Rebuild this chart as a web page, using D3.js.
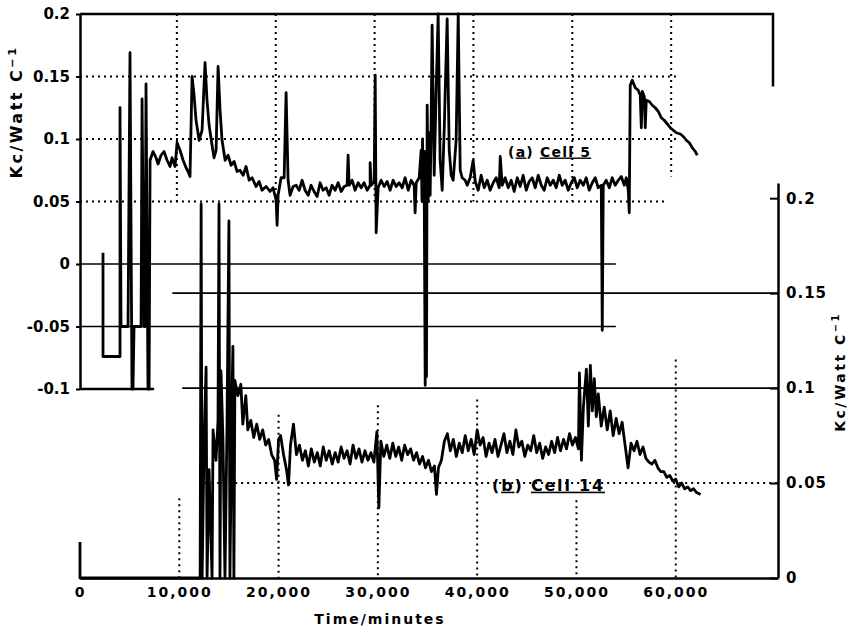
<!DOCTYPE html>
<html>
<head>
<meta charset="utf-8">
<script src="https://cdn.jsdelivr.net/npm/d3@7"></script>
<style>
  body { margin: 0; background: #fff; }
  svg text { font-family: "DejaVu Sans", sans-serif; font-weight: bold; fill: #000; }
</style>
</head>
<body>
<div id="chart"></div>
<script>
// Cell 5 trace (upper plot, left axis): [minutes, Kc/Watt C^-1]
const cell5 = [
  [2530,0.009],[2530,-0.074],[4250,-0.074],[4250,0.125],[4350,-0.05],[5060,-0.05],[5260,0.169],[5460,-0.1],[5560,-0.1],[5670,-0.05],
  [6380,-0.05],[6480,0.132],[6680,-0.05],[6780,-0.05],[6880,0.144],[7080,-0.1],[7190,-0.1],[7290,0.083],
  [7590,0.090],[7890,0.085],[8100,0.080],[8400,0.087],[8700,0.090],[9010,0.083],[9310,0.078],[9510,0.085],[9820,0.078],[10020,0.097],
  [10320,0.091],[10630,0.083],[10930,0.077],[11130,0.074],[11330,0.070],[11540,0.150],[11740,0.135],[11940,0.115],[12250,0.099],[12550,0.107],
  [12850,0.161],[13050,0.131],[13260,0.111],[13560,0.095],[13760,0.085],[13970,0.091],[14170,0.158],[14370,0.123],[14570,0.099],[14880,0.083],
  [15180,0.087],[15480,0.079],[15790,0.082],[16090,0.074],[16390,0.075],[16700,0.071],[17000,0.078],[17310,0.067],[17610,0.069],[18010,0.062],
  [18320,0.066],[18620,0.059],[19030,0.062],[19430,0.058],[19730,0.061],[20040,0.051],[20140,0.031],[20240,0.055],[20540,0.069],[20850,0.069],
  [21050,0.137],[21250,0.067],[21450,0.055],[21760,0.062],[22060,0.063],[22370,0.059],[22670,0.067],[22970,0.059],[23280,0.055],[23580,0.063],
  [23880,0.058],[24190,0.054],[24490,0.065],[24790,0.059],[25100,0.061],[25400,0.055],[25700,0.063],[26010,0.059],[26310,0.065],[26620,0.058],
  [26920,0.062],[27220,0.063],[27320,0.087],[27430,0.063],[27730,0.067],[28030,0.059],[28340,0.065],[28640,0.061],[28940,0.065],[29250,0.059],
  [29550,0.063],[29550,0.081],[29650,0.063],[29960,0.066],[30060,0.151],[30160,0.025],[30360,0.061],[30660,0.067],[30970,0.062],[31270,0.066],
  [31570,0.059],[31880,0.067],[32180,0.062],[32490,0.065],[32790,0.061],[33090,0.069],[33400,0.059],[33700,0.067],[34000,0.063],[34100,0.041],
  [34210,0.065],[34510,0.069],[34710,0.091],[34800,0.050],[34850,0.100],[34910,0.052],[35000,0.090],[35120,-0.097],[35200,0.090],[35250,-0.090],
  [35320,0.127],[35420,0.050],[35520,0.105],[35620,0.055],[35720,0.115],[35820,0.191],[36030,0.071],[36230,0.139],[36430,0.200],[36630,0.083],
  [36840,0.059],[37040,0.107],[37340,0.196],[37550,0.091],[37750,0.071],[37950,0.067],[38250,0.099],[38460,0.200],[38660,0.075],[38860,0.069],
  [39160,0.067],[39370,0.063],[39670,0.069],[39970,0.083],[40180,0.066],[40480,0.059],[40780,0.071],[41090,0.061],[41390,0.067],[41690,0.059],
  [42000,0.065],[42300,0.069],[42610,0.061],[42710,0.086],[42910,0.063],[43210,0.069],[43520,0.061],[43820,0.067],[44120,0.058],[44430,0.069],
  [44730,0.062],[45030,0.071],[45340,0.059],[45640,0.066],[45940,0.069],[46250,0.061],[46550,0.071],[46860,0.063],[47160,0.059],[47460,0.069],
  [47770,0.063],[48070,0.067],[48370,0.061],[48680,0.071],[48980,0.063],[49280,0.067],[49590,0.059],[49890,0.065],[50200,0.069],[50500,0.061],
  [50800,0.067],[51110,0.063],[51410,0.069],[51710,0.059],[52020,0.065],[52320,0.069],[52620,0.061],[52930,0.063],[53030,-0.053],[53130,0.063],
  [53430,0.067],[53740,0.061],[54040,0.069],[54340,0.063],[54650,0.067],[54950,0.070],[55260,0.063],[55460,0.069],[55660,0.059],[55760,0.041],
  [55860,0.143],[56060,0.147],[56370,0.141],[56670,0.139],[56870,0.135],[56980,0.109],[57080,0.138],[57280,0.134],[57380,0.109],[57480,0.131],
  [57790,0.130],[58090,0.127],[58390,0.125],[58700,0.122],[59000,0.117],[59300,0.115],[59610,0.112],[59910,0.109],[60210,0.107],[60520,0.105],
  [60920,0.104],[61230,0.102],[61530,0.099],[61830,0.097],[62140,0.093],[62440,0.090],[62640,0.087]
];

// Cell 14 trace (lower plot, right axis): [minutes, Kc/Watt C^-1]
const cell14 = [
  [0,0.019],[0,0],[12100,0],[12200,0.197],[12300,0],[12500,0.073],[12700,0.111],[12800,0],[13000,0.057],[13300,0],
  [13400,0.078],[13700,0.062],[13900,0.083],[14000,0.197],[14100,0],[14200,0.109],[14400,0.073],[14600,0],[14800,0.078],[15000,0.188],
  [15100,0],[15300,0.094],[15400,0.122],[15500,0],[15600,0.104],[15900,0.096],[16200,0.102],[16400,0.081],[16700,0.096],[16900,0.078],
  [17200,0.083],[17500,0.074],[17800,0.081],[18100,0.073],[18400,0.078],[18700,0.070],[19000,0.073],[19300,0.065],[19600,0.062],[19800,0.052],
  [20000,0.073],[20200,0.075],[20500,0.065],[20800,0.057],[21000,0.049],[21200,0.070],[21500,0.081],[21800,0.065],[22100,0.070],[22400,0.062],
  [22700,0.067],[23000,0.059],[23300,0.068],[23600,0.061],[23900,0.066],[24200,0.059],[24500,0.069],[24800,0.062],[25100,0.067],[25400,0.060],
  [25700,0.066],[26000,0.061],[26300,0.069],[26600,0.063],[26900,0.067],[27200,0.060],[27500,0.070],[27800,0.063],[28100,0.068],[28400,0.061],
  [28700,0.067],[29000,0.062],[29300,0.066],[29600,0.061],[29900,0.077],[30100,0.037],[30300,0.072],[30600,0.064],[30900,0.070],[31200,0.063],
  [31500,0.071],[31800,0.064],[32100,0.069],[32400,0.062],[32700,0.070],[33000,0.065],[33300,0.068],[33600,0.062],[33900,0.066],[34200,0.060],
  [34500,0.064],[34800,0.058],[35100,0.062],[35400,0.056],[35700,0.059],[35900,0.044],[36100,0.058],[36400,0.062],[36700,0.072],[37000,0.076],
  [37300,0.067],[37600,0.073],[37900,0.064],[38200,0.071],[38500,0.066],[38800,0.075],[39100,0.067],[39400,0.073],[39700,0.065],[40000,0.078],
  [40300,0.070],[40600,0.074],[40900,0.064],[41200,0.071],[41500,0.066],[41800,0.073],[42100,0.064],[42400,0.070],[42700,0.076],[43000,0.066],
  [43300,0.072],[43600,0.065],[43900,0.078],[44200,0.069],[44500,0.072],[44800,0.064],[45100,0.070],[45400,0.067],[45700,0.075],[46000,0.066],
  [46300,0.071],[46600,0.063],[46900,0.069],[47200,0.065],[47500,0.072],[47800,0.066],[48100,0.074],[48400,0.067],[48700,0.073],[49000,0.068],
  [49300,0.076],[49600,0.070],[49900,0.074],[50200,0.068],[50300,0.108],[50500,0.062],[50700,0.090],[51000,0.110],[51200,0.080],[51400,0.112],
  [51600,0.088],[51800,0.105],[52000,0.085],[52200,0.097],[52500,0.080],[52800,0.090],[53100,0.078],[53400,0.088],[53700,0.075],[54000,0.084],
  [54300,0.076],[54600,0.082],[54900,0.070],[55200,0.058],[55500,0.071],[55800,0.067],[56100,0.072],[56400,0.065],[56700,0.069],[57000,0.063],
  [57300,0.061],[57600,0.060],[57900,0.062],[58200,0.058],[58500,0.056],[58800,0.056],[59100,0.053],[59400,0.054],[59700,0.051],[60000,0.052],
  [60300,0.048],[60600,0.050],[60900,0.047],[61200,0.048],[61500,0.046],[61800,0.047],[62100,0.045],[62500,0.044]
];

// tick values and labels
const xTicks = [0, 10000, 20000, 30000, 40000, 50000, 60000];
const leftTicks = [-0.1, -0.05, 0, 0.05, 0.1, 0.15, 0.2];
const leftLabels = ['-0.1', '-0.05', '0', '0.05', '0.1', '0.15', '0.2'];
const rightTicks = [0, 0.05, 0.1, 0.15, 0.2];
const rightLabels = ['0', '0.05', '0.1', '0.15', '0.2'];
const topGridY = [0.15, 0.1, 0.05];
const botGridY = [0.05];

const svg = d3.select('#chart').append('svg')
  .attr('width', 849)
  .attr('height', 630);

// Scales: two overlaid plots sharing the time axis
const xTop = d3.scaleLinear().domain([0, 70300]).range([78, 773]);
const yTop = d3.scaleLinear().domain([-0.1, 0.2]).range([389, 14]);
const xBot = d3.scaleLinear().domain([0, 70300]).range([80, 778]);
const yBot = d3.scaleLinear().domain([0, 0.208]).range([578, 183]);

const dotted = g => g.attr('stroke', '#000').attr('stroke-width', 2).attr('stroke-dasharray', '2,4').attr('fill', 'none');

// dotted grid, upper plot
const grid = svg.append('g');
topGridY.forEach(v => {
  grid.append('line').call(dotted)
    .attr('x1', xTop(0) + 2).attr('x2', xTop(v === 0.05 ? 59600 : 60800))
    .attr('y1', yTop(v)).attr('y2', yTop(v));
});
xTicks.slice(1).forEach(t => {
  grid.append('line').call(dotted)
    .attr('x1', xTop(t)).attr('x2', xTop(t))
    .attr('y1', yTop(0.2)).attr('y2', yTop(t === 60000 ? 0.07 : 0.05));
});

// dotted grid, lower plot
botGridY.forEach(v => {
  grid.append('line').call(dotted)
    .attr('x1', xBot(12000)).attr('x2', xBot(70300))
    .attr('y1', yBot(v)).attr('y2', yBot(v));
});
const botGridTop = { 10000: 0.042, 20000: 0.086, 30000: 0.091, 40000: 0.094, 50000: 0.041, 60000: 0.115 };
xTicks.slice(1).forEach(t => {
  grid.append('line').call(dotted)
    .attr('x1', xBot(t)).attr('x2', xBot(t))
    .attr('y1', yBot(botGridTop[t])).attr('y2', yBot(0));
});

// solid reference lines
const solid = svg.append('g').attr('stroke', '#000').attr('fill', 'none');
[0, -0.05].forEach(v => {
  solid.append('line').attr('stroke-width', 1.6)
    .attr('x1', xTop(0) + 2).attr('x2', xTop(54400))
    .attr('y1', yTop(v)).attr('y2', yTop(v));
});
solid.append('line').attr('stroke-width', 2.5)
  .attr('x1', xTop(0) + 2).attr('x2', xTop(7700))
  .attr('y1', yTop(-0.1)).attr('y2', yTop(-0.1));
[[0.15, 9300], [0.1, 10300]].forEach(([v, t0]) => {
  solid.append('line').attr('stroke-width', 1.6)
    .attr('x1', xBot(t0)).attr('x2', xBot(70300))
    .attr('y1', yBot(v)).attr('y2', yBot(v));
});
// upper frame
solid.append('path').attr('stroke-width', 2.5)
  .attr('d', `M${xTop(0) + 2},${yTop(0.2)}H${xTop(70300)}V${yTop(0.142)}`);

// axes
const leftAxis = svg.append('g')
  .attr('transform', 'translate(80,0)')
  .call(d3.axisLeft(yTop).tickValues(leftTicks).tickFormat((d, i) => leftLabels[i]).tickSize(4).tickSizeOuter(0).tickPadding(6));

const rightAxis = svg.append('g')
  .attr('transform', 'translate(778,0)')
  .call(d3.axisRight(yBot).tickValues(rightTicks).tickFormat((d, i) => rightLabels[i]).tickSize(-8).tickSizeOuter(0).tickPadding(8));

const bottomAxis = svg.append('g')
  .attr('transform', 'translate(0,578)')
  .call(d3.axisBottom(xBot).tickValues(xTicks).tickFormat(d3.format(',')).tickSize(0).tickPadding(9));

[leftAxis, rightAxis, bottomAxis].forEach(a => {
  a.select('.domain').attr('stroke-width', 2.5);
  a.selectAll('.tick line').attr('stroke-width', 2);
  a.selectAll('text').attr('font-size', 15).attr('font-family', '"DejaVu Sans", sans-serif').attr('font-weight', 'bold');
});
bottomAxis.selectAll('text').attr('font-size', 14).attr('letter-spacing', 2);
rightAxis.selectAll('text').attr('letter-spacing', 1);

// traces
const lineTop = d3.line().x(d => xTop(d[0])).y(d => yTop(d[1]));
const lineBot = d3.line().x(d => xBot(d[0])).y(d => yBot(d[1]));

svg.append('path')
  .datum(cell5)
  .attr('d', lineTop)
  .attr('fill', 'none')
  .attr('stroke', '#000')
  .attr('stroke-width', 2.8)
  .attr('stroke-linejoin', 'round');

svg.append('path')
  .datum(cell14)
  .attr('d', lineBot)
  .attr('fill', 'none')
  .attr('stroke', '#000')
  .attr('stroke-width', 2.8)
  .attr('stroke-linejoin', 'round');

// trace labels
const labA = svg.append('text')
  .attr('x', xTop(43500)).attr('y', yTop(0.086))
  .attr('font-size', 14).attr('letter-spacing', 1.2);
labA.append('tspan').text('(');
labA.append('tspan').attr('text-decoration', 'underline').text('a');
labA.append('tspan').text(') ');
labA.append('tspan').attr('text-decoration', 'underline').text('Cell 5');

const labB = svg.append('text')
  .attr('x', xBot(41500)).attr('y', yBot(0.046))
  .attr('font-size', 16).attr('letter-spacing', 1.8);
labB.append('tspan').text('(');
labB.append('tspan').attr('text-decoration', 'underline').text('b');
labB.append('tspan').text(') ');
labB.append('tspan').attr('text-decoration', 'underline').text('Cell 14');

// axis titles
svg.append('text')
  .attr('x', 380).attr('y', 624)
  .attr('text-anchor', 'middle')
  .attr('font-size', 14).attr('letter-spacing', 2)
  .text('Time/minutes');

function yTitle(x, y, size) {
  const t = svg.append('text')
    .attr('transform', `translate(${x},${y}) rotate(-90)`)
    .attr('text-anchor', 'middle')
    .attr('font-size', size).attr('letter-spacing', 2.5);
  t.append('tspan').text('Kc/Watt C');
  t.append('tspan').attr('font-size', size * 0.7).attr('dy', -size * 0.4).text('−1');
}
yTitle(22, 112, 16);
yTitle(845, 372, 14);
</script>
</body>
</html>
